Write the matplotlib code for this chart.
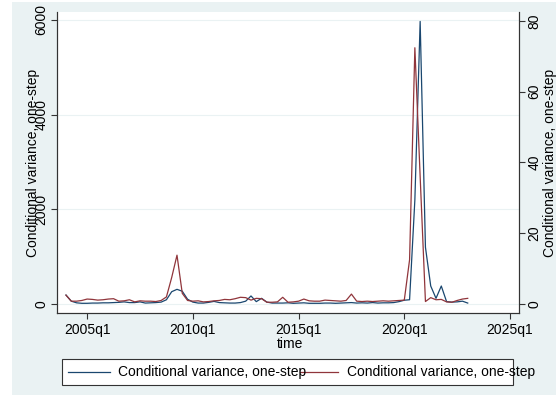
import numpy as np
import matplotlib
matplotlib.use("Agg")
import matplotlib.pyplot as plt
from matplotlib.patches import Rectangle
from matplotlib.lines import Line2D

plt.rcParams['font.family'] = ['Liberation Sans', 'DejaVu Sans']

# quarters since 1960q1: 2004q1 = 176 ... 2023q1 = 252
first_q = 176
# conditional variance, one-step (left axis, navy)
cv_left = [190, 60, 25, 15, 15, 20, 20, 25, 25, 30, 35, 45, 30, 30, 45, 20,
           25, 30, 40, 90, 260, 310, 270, 100, 40, 20, 20, 35, 55, 30, 25, 20,
           20, 30, 60, 170, 50, 120, 40, 20, 20, 20, 25, 15, 20, 25, 15, 15,
           15, 20, 20, 15, 20, 25, 30, 20, 25, 20, 30, 20, 25, 25, 30, 50,
           80, 90, 2200, 5970, 1200, 380, 120, 380, 50, 40, 45, 60, 20]
# conditional variance, one-step (right axis, maroon)
cv_right = [2.5, 0.8, 0.8, 1.0, 1.4, 1.3, 1.1, 1.2, 1.4, 1.5, 0.8, 0.9, 1.2, 0.6, 0.9, 0.8,
            0.8, 0.7, 1.0, 2.0, 7.5, 13.8, 3.0, 1.0, 0.8, 0.9, 0.6, 0.7, 0.9, 1.0, 1.3, 1.2,
            1.5, 1.9, 1.8, 1.1, 1.6, 1.5, 0.5, 0.5, 0.6, 1.9, 0.5, 0.6, 0.8, 1.4, 0.9, 0.8,
            0.8, 1.1, 1.0, 0.9, 0.8, 1.0, 2.8, 0.8, 0.7, 0.8, 0.7, 0.8, 0.9, 0.8, 0.9, 1.0,
            1.1, 12.5, 72.4, 36, 0.7, 1.8, 1.2, 1.3, 0.6, 0.5, 1.0, 1.4, 1.6]
xtick_q = [180, 200, 220, 240, 260]
xtick_labels = ['2005q1', '2010q1', '2015q1', '2020q1', '2025q1']
left_ticks = [0, 2000, 4000, 6000]
right_ticks = [0, 20, 40, 60, 80]
label = 'Conditional variance, one-step'

t = np.arange(first_q, first_q + len(cv_left))

W, H = 556, 395
bg = '#EAF2F3'
navy = '#1a476f'
maroon = '#90353b'
axcol = '#333333'

fig = plt.figure(figsize=(W / 100, H / 100), dpi=100)
fig.patch.set_facecolor('white')
fig.patches.append(Rectangle((12 / W, 0), 1 - 12 / W, 1 - 2 / H, transform=fig.transFigure,
                             facecolor=bg, edgecolor='none', zorder=-10))

x0, x1, y0, y1 = 57, 519, 12, 313
ax = fig.add_axes([x0 / W, 1 - y1 / H, (x1 - x0) / W, (y1 - y0) / H])
ax.set_facecolor('white')
ax2 = ax.twinx()

ax.plot(t, cv_left, color=navy, lw=0.9)
ax2.plot(t, cv_right, color=maroon, lw=0.9)

ax.set_xlim(174.3, 261.7)
ax.set_ylim(-190, 6169)
ax2.set_ylim(-2.54, 82.5)

ax.set_yticks(left_ticks)
ax2.set_yticks(right_ticks)
ax.set_xticks(xtick_q)
ax.set_xticklabels(xtick_labels)
ax.grid(axis='y', color=bg, lw=0.8)
ax.set_axisbelow(True)

for a in (ax, ax2):
    a.spines['top'].set_visible(False)
    for s in ('left', 'right', 'bottom'):
        a.spines[s].set_color(axcol)
        a.spines[s].set_linewidth(0.8)
    a.tick_params(colors=axcol, labelcolor='black', length=4, width=0.8,
                  labelsize=10)
ax.tick_params(axis='x', pad=3)
ax.tick_params(axis='y', labelrotation=90, pad=2)
ax2.tick_params(axis='y', labelrotation=90, pad=2)
for lab in ax.get_yticklabels() + ax2.get_yticklabels():
    lab.set_va('center')

fig.text(33.5 / W, 1 - 162.5 / H, label, rotation=90, ha='center', va='center', fontsize=10)
fig.text(550 / W, 1 - 162.5 / H, label, rotation=90, ha='center', va='center', fontsize=10)
fig.text(290 / W, 1 - 344 / H, 'time', ha='center', va='center', fontsize=10)

# legend box
fig.patches.append(Rectangle((62 / W, 1 - 385 / H), (513 - 62) / W, 26 / H,
                             transform=fig.transFigure, facecolor='white',
                             edgecolor=axcol, lw=0.8))
ly = 1 - 372 / H
fig.lines.append(Line2D([68 / W, 110 / W], [ly, ly], transform=fig.transFigure,
                        color=navy, lw=0.9))
fig.text(118 / W, ly, label, ha='left', va='center', fontsize=10)
fig.lines.append(Line2D([300 / W, 338 / W], [ly, ly], transform=fig.transFigure,
                        color=maroon, lw=0.9))
fig.text(347 / W, ly, label, ha='left', va='center', fontsize=10)

fig.savefig('out.png', dpi=100, facecolor=fig.get_facecolor())
